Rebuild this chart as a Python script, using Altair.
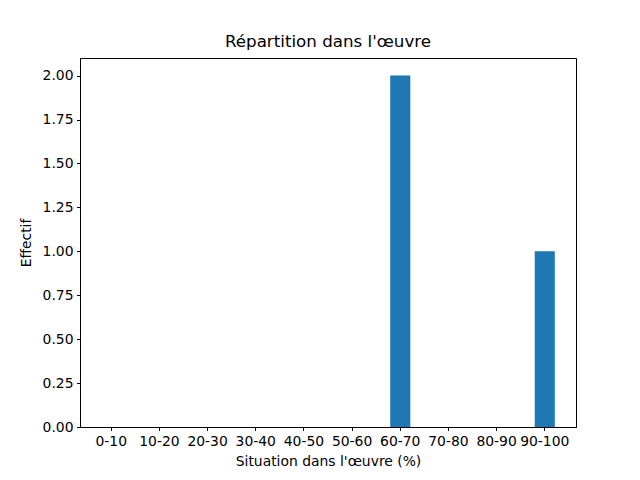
import altair as alt
import pandas as pd

categories = ["0-10", "10-20", "20-30", "30-40", "40-50", "50-60", "60-70", "70-80", "80-90", "90-100"]
counts = [0, 0, 0, 0, 0, 0, 2, 0, 0, 1]

df = pd.DataFrame({"cat": categories, "n": counts})

chart = alt.Chart(df).mark_bar(color="#1f77b4").encode(
    x=alt.X("cat:N", sort=categories,
            scale=alt.Scale(paddingInner=0.583, paddingOuter=0.44),
            axis=alt.Axis(title="Situation dans l'œuvre (%)", labelAngle=0,
                          tickSize=3.5, labelPadding=3.5, titlePadding=7)),
    y=alt.Y("n:Q", scale=alt.Scale(domain=[0, 2.1], nice=False),
            axis=alt.Axis(title="Effectif", format=".2f",
                          values=[0, 0.25, 0.5, 0.75, 1.0, 1.25, 1.5, 1.75, 2.0],
                          tickSize=3.5, labelPadding=3.5, titlePadding=9)),
).properties(
    width=496, height=369,
    title=alt.Title("Répartition dans l'œuvre", fontSize=16.7, fontWeight="normal", offset=7),
    autosize=alt.AutoSizeParams(type="none"),
    padding={"left": 72, "top": 50, "right": 56, "bottom": 45},
).configure(font="DejaVu Sans").configure_axis(
    grid=False, domainColor="black", tickColor="black", labelColor="black",
    titleColor="black", labelFontSize=13.9, titleFontSize=13.9, titleFontWeight="normal",
    domainWidth=1, tickWidth=1,
).configure_view(stroke="black", strokeWidth=1).configure_title(color="black", font="DejaVu Sans")

chart.save("out.html", embed_options={"renderer": "svg", "actions": False})
